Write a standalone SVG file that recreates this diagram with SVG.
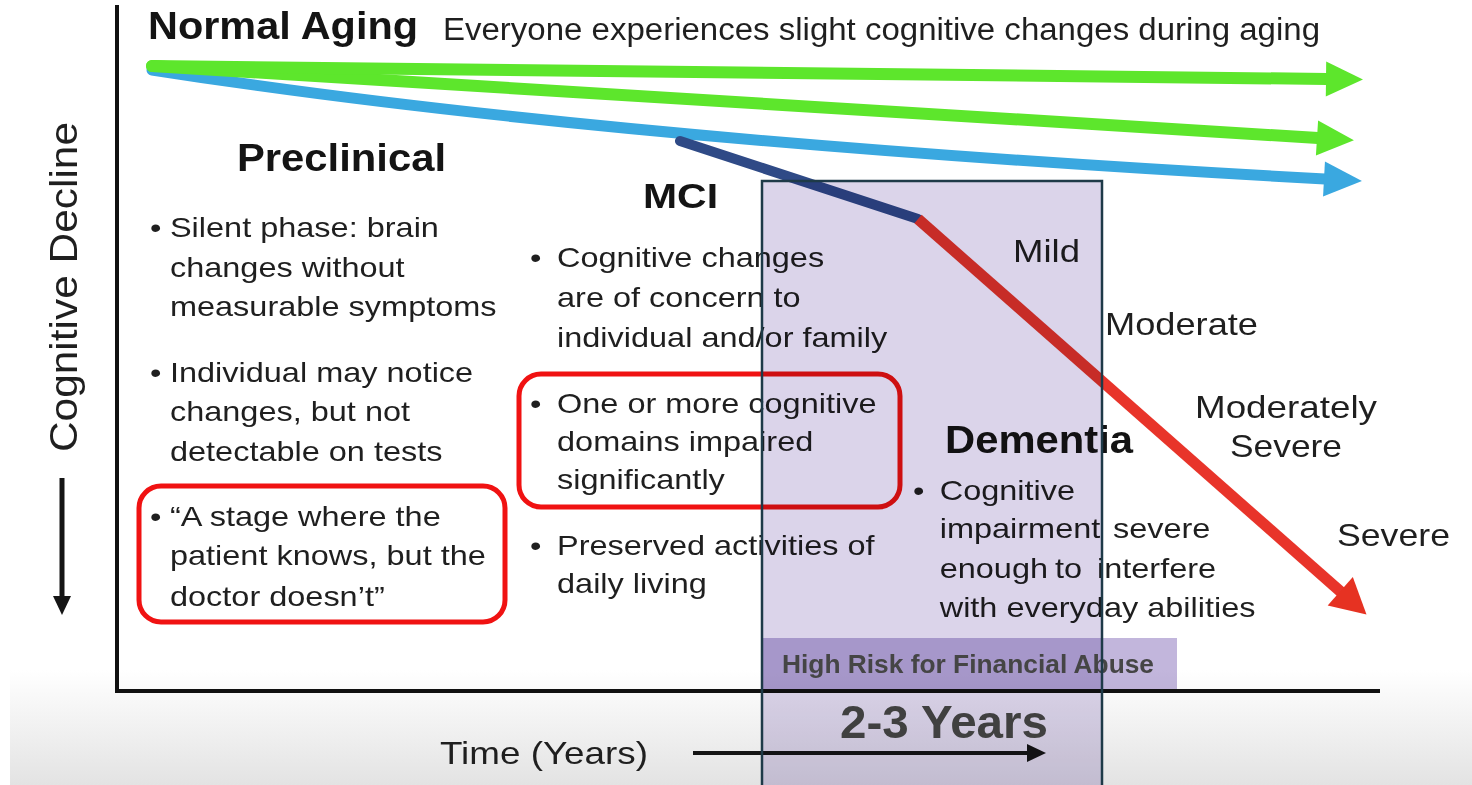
<svg xmlns="http://www.w3.org/2000/svg" width="1472" height="785" viewBox="0 0 1472 785">
<style>
text{font-family:"Liberation Sans",Arial,sans-serif;fill:#1f1f1f}
.title{font-weight:bold;fill:#141414}
.body{font-size:28px}
.lab{font-size:32px}
.tint{mix-blend-mode:multiply}
</style>
<defs>
<linearGradient id="bg" x1="0" y1="0" x2="0" y2="1">
<stop offset="0" stop-color="#ffffff"/>
<stop offset="1" stop-color="#e3e3e3"/>
</linearGradient>
<marker id="ah-green" markerUnits="userSpaceOnUse" markerWidth="40" markerHeight="40" refX="0" refY="0" orient="auto" overflow="visible"><path d="M-1,-17.5 L36,0 L-1,17.5 z" fill="#5de62c"/></marker>
<marker id="ah-blue" markerUnits="userSpaceOnUse" markerWidth="40" markerHeight="40" refX="0" refY="0" orient="auto" overflow="visible"><path d="M-1,-17.5 L37,0 L-1,17.5 z" fill="#3aa8e0"/></marker>
<marker id="ah-red" markerUnits="userSpaceOnUse" markerWidth="40" markerHeight="40" refX="0" refY="0" orient="auto" overflow="visible"><path d="M-1,-19 L34,0 L-1,19 z" fill="#e63222"/></marker>
<marker id="ah-black" markerUnits="userSpaceOnUse" markerWidth="20" markerHeight="20" refX="0" refY="0" orient="auto" overflow="visible"><path d="M-1,-9 L18,0 L-1,9 z" fill="#151515"/></marker>
</defs>
<rect width="1472" height="785" fill="#ffffff"/>
<rect x="10" y="670" width="1462" height="115" fill="url(#bg)"/>

<g id="axes" fill="none" stroke="#111" stroke-width="4">
<path d="M117,5 V691 H1380"/>
</g>

<g id="connectors" fill="none" stroke-linecap="round">
<path d="M152,70 Q600,140 1325,179" stroke="#3aa8e0" stroke-width="11" marker-end="url(#ah-blue)"/>
<path d="M152,66 L1318,138" stroke="#5de62c" stroke-width="12" marker-end="url(#ah-green)"/>
<path d="M152,66 L1327,79" stroke="#5de62c" stroke-width="12" marker-end="url(#ah-green)"/>
<path d="M680,141 L918,219" stroke="#2f4a86" stroke-width="10"/>
<path d="M918,219 L1341,592" stroke="#e8342a" stroke-width="11" stroke-linecap="butt" marker-end="url(#ah-red)"/>
<path d="M62,478 L62,597" stroke="#151515" stroke-width="5" stroke-linecap="butt" marker-end="url(#ah-black)"/>
<path d="M693,753 L1028,753" stroke="#151515" stroke-width="4" stroke-linecap="butt" marker-end="url(#ah-black)"/>
</g>

<g id="normal-aging">
<text class="title" x="148" y="39" font-size="38" textLength="270" lengthAdjust="spacingAndGlyphs">Normal Aging</text>
<text x="443" y="40" font-size="31" textLength="877" lengthAdjust="spacingAndGlyphs">Everyone experiences slight cognitive changes during aging</text>
</g>

<g id="y-label">
<text transform="translate(77,287) rotate(-90)" text-anchor="middle" font-size="38" textLength="330" lengthAdjust="spacingAndGlyphs">Cognitive Decline</text>
</g>

<g id="preclinical">
<text class="title" x="237" y="171" font-size="38" textLength="209" lengthAdjust="spacingAndGlyphs">Preclinical</text>
<g transform="translate(150,237) scale(1.16,1)">
<text class="body"><tspan x="0" y="0">•</tspan><tspan x="17.2" y="0">Silent phase: brain</tspan><tspan x="17.2" y="40">changes without</tspan><tspan x="17.2" y="79">measurable symptoms</tspan></text>
<text class="body"><tspan x="0" y="145">•</tspan><tspan x="17.2" y="145">Individual may notice</tspan><tspan x="17.2" y="184">changes, but not</tspan><tspan x="17.2" y="224">detectable on tests</tspan></text>
<text class="body"><tspan x="0" y="289">•</tspan><tspan x="17.2" y="289">“A stage where the</tspan><tspan x="17.2" y="328">patient knows, but the</tspan><tspan x="17.2" y="369">doctor doesn’t”</tspan></text>
</g>
<rect x="139" y="486" width="366" height="136" rx="22" fill="none" stroke="#f01212" stroke-width="5"/>
</g>

<g id="mci">
<text class="title" x="643" y="208" font-size="35" textLength="75" lengthAdjust="spacingAndGlyphs">MCI</text>
<g transform="translate(530,267) scale(1.16,1)">
<text class="body"><tspan x="0" y="0">•</tspan><tspan x="23.3" y="0">Cognitive changes</tspan><tspan x="23.3" y="40">are of concern to</tspan><tspan x="23.3" y="80">individual and/or family</tspan></text>
<text class="body"><tspan x="0" y="146">•</tspan><tspan x="23.3" y="146">One or more cognitive</tspan><tspan x="23.3" y="184">domains impaired</tspan><tspan x="23.3" y="222">significantly</tspan></text>
<text class="body"><tspan x="0" y="288">•</tspan><tspan x="23.3" y="288">Preserved activities of</tspan><tspan x="23.3" y="326">daily living</tspan></text>
</g>
<rect x="519" y="374" width="381" height="133" rx="22" fill="none" stroke="#f01212" stroke-width="5"/>
</g>

<g id="dementia">
<text class="title" x="945" y="453" font-size="39" textLength="188" lengthAdjust="spacingAndGlyphs">Dementia</text>
<g transform="translate(913,500) scale(1.16,1)">
<text class="body"><tspan x="0" y="0">•</tspan><tspan x="23" y="0">Cognitive</tspan></text>
<text class="body"><tspan x="23" y="38">impairment</tspan><tspan x="172.4" y="38">severe</tspan></text>
<text class="body"><tspan x="23" y="78">enough</tspan><tspan x="122.4" y="78">to</tspan><tspan x="158.6" y="78">interfere</tspan></text>
<text class="body" x="23" y="117">with everyday abilities</text>
</g>
</g>

<g id="stages">
<text class="lab" x="1013" y="262" textLength="67" lengthAdjust="spacingAndGlyphs">Mild</text>
<text class="lab" x="1105" y="335" textLength="153" lengthAdjust="spacingAndGlyphs">Moderate</text>
<text class="lab" x="1195" y="418" textLength="182" lengthAdjust="spacingAndGlyphs">Moderately</text>
<text class="lab" x="1230" y="457" textLength="112" lengthAdjust="spacingAndGlyphs">Severe</text>
<text class="lab" x="1337" y="546" textLength="113" lengthAdjust="spacingAndGlyphs">Severe</text>
</g>

<g id="time-label">
<text x="440" y="764" font-size="32" textLength="208" lengthAdjust="spacingAndGlyphs">Time (Years)</text>
</g>

<g id="risk-window">
<rect class="tint" x="762" y="181" width="340" height="620" fill="#dbd4ea"/>
<rect class="tint" x="762" y="638" width="415" height="51" fill="#c2b6dc"/>
<text class="title" x="782" y="673" font-size="26" style="fill:#454545" textLength="372" lengthAdjust="spacingAndGlyphs">High Risk for Financial Abuse</text>
<text class="title" x="840" y="738" font-size="46" style="fill:#404040" textLength="208" lengthAdjust="spacingAndGlyphs">2-3 Years</text>
<rect x="762" y="181" width="340" height="620" fill="none" stroke="#1e3a48" stroke-width="2.5"/>
</g>
</svg>
